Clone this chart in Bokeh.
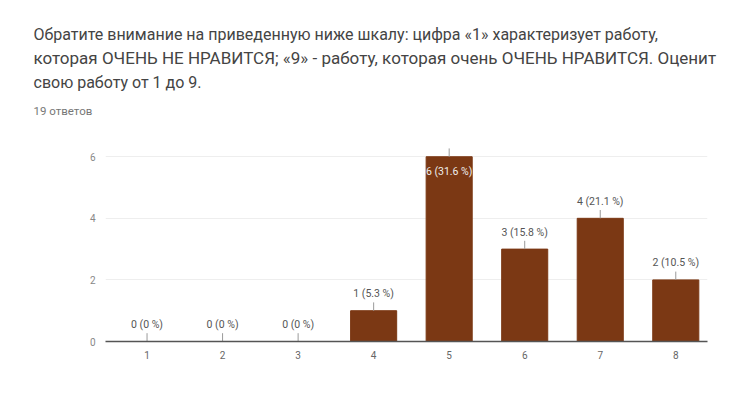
from bokeh.plotting import figure
from bokeh.models import Range1d, FixedTicker, ColumnDataSource, Title
from bokeh.embed import file_html
from bokeh.resources import INLINE
from bokeh.core.properties import value

# ---- data ----
question_lines = [
    "Обратите внимание на приведенную ниже шкалу: цифра «1» характеризует работу,",
    "которая ОЧЕНЬ НЕ НРАВИТСЯ; «9» - работу, которая очень ОЧЕНЬ НРАВИТСЯ. Оценит",
    "свою работу от 1 до 9.",
]
responses_text = "19 ответов"
ratings = [1, 2, 3, 4, 5, 6, 7, 8]
counts = [0, 0, 0, 1, 6, 3, 4, 2]
bar_labels = ["0 (0 %)", "0 (0 %)", "0 (0 %)", "1 (5.3 %)", "6 (31.6 %)",
              "3 (15.8 %)", "4 (21.1 %)", "2 (10.5 %)"]
y_ticks = [0, 2, 4, 6]

# ---- style ----
BAR = "#7b3814"
FONT = "Roboto"
STEM = 0.27
W = 725
H = 393

p = figure(width=W, height=H, output_backend="svg", toolbar_location=None,
           x_range=Range1d(0.45, 8.42), y_range=Range1d(0, 6.3),
           min_border_left=105, min_border_right=18, min_border_top=147,
           min_border_bottom=52)
p.outline_line_color = None
p.background_fill_color = "white"
p.border_fill_color = "white"

p.vbar(x=ratings, top=counts, width=0.61, fill_color=BAR, line_color=BAR)

top_count = max(counts)
stem_top = [c + STEM for c in counts]
p.segment(x0=ratings, y0=counts, x1=ratings, y1=stem_top,
          line_color="#9a9a9a", line_width=1)

out_idx = [i for i, c in enumerate(counts) if c != top_count]
in_idx = [i for i, c in enumerate(counts) if c == top_count]
src_out = ColumnDataSource(dict(x=[ratings[i] for i in out_idx],
                                y=[counts[i] for i in out_idx],
                                t=[bar_labels[i] for i in out_idx]))
src_in = ColumnDataSource(dict(x=[ratings[i] for i in in_idx],
                               y=[counts[i] for i in in_idx],
                               t=[bar_labels[i] for i in in_idx]))
p.text(x="x", y="y", text="t", source=src_out, y_offset=-17,
       text_align="center", text_baseline="middle",
       text_font=value(FONT), text_font_size="10.5px", text_color="#555555")
p.text(x="x", y="y", text="t", source=src_in, y_offset=15,
       text_align="center", text_baseline="middle",
       text_font=value(FONT), text_font_size="10.5px", text_color="#eeeeee")

# axes
p.xaxis.ticker = FixedTicker(ticks=ratings)
p.xaxis.major_label_overrides = {r: str(r) for r in ratings}
p.xaxis.axis_line_color = "#555555"
p.xaxis.axis_line_width = 1.5
p.xaxis.major_tick_line_color = None
p.xaxis.major_tick_out = 0
p.xaxis.minor_tick_line_color = None
p.xaxis.major_label_text_font = FONT
p.xaxis.major_label_text_font_size = "10px"
p.xaxis.major_label_text_color = "#666666"
p.xaxis.major_label_standoff = 9

p.yaxis.ticker = FixedTicker(ticks=y_ticks)
p.yaxis.axis_line_color = None
p.yaxis.major_tick_line_color = None
p.yaxis.major_tick_out = 0
p.yaxis.minor_tick_line_color = None
p.yaxis.major_label_text_font = FONT
p.yaxis.major_label_text_font_size = "10px"
p.yaxis.major_label_text_color = "#888888"
p.yaxis.major_label_standoff = 10

p.xgrid.grid_line_color = None
p.ygrid.ticker = FixedTicker(ticks=y_ticks)
p.ygrid.grid_line_color = "#eeeeee"

# ---- header texts as titles (first added = closest to the plot) ----
def spacer(standoff):
    return Title(text=" ", text_font_size="1px", standoff=standoff)

line_sizes = ["16px", "17px", "16px"]
line_standoffs = [3.3, 2.1, 3.3]

p.add_layout(spacer(19.25), "above")
p.add_layout(Title(text=responses_text, align="left", offset=-72, standoff=15.7,
                   text_font=FONT, text_font_size="11.5px",
                   text_font_style="normal", text_color="#777777"), "above")
for i in reversed(range(len(question_lines))):
    p.add_layout(Title(text=question_lines[i], align="left", offset=-72,
                       standoff=line_standoffs[i],
                       text_font=FONT, text_font_size=line_sizes[i],
                       text_font_style="normal", text_color="#444444"), "above")
p.add_layout(spacer(18.1), "above")

open("out.html", "w").write(file_html(p, INLINE))
